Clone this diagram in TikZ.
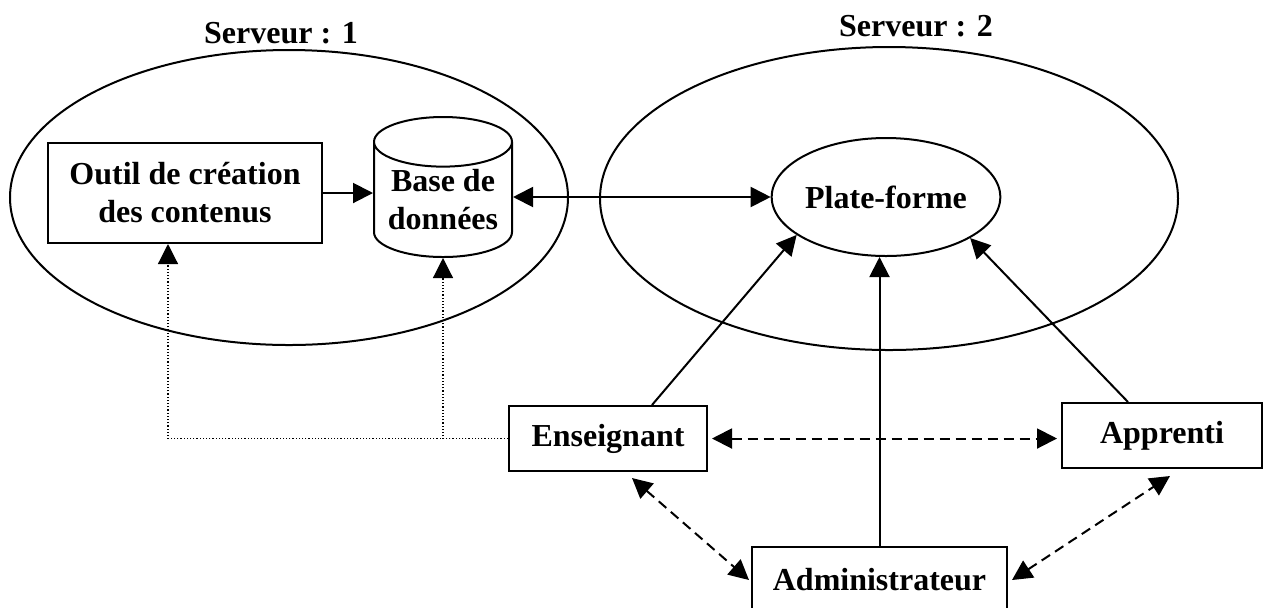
\documentclass[tikz,border=0pt]{standalone}
\usepackage{fontspec}
\setmainfont{Liberation Serif}
\usetikzlibrary{shapes.geometric, arrows.meta}
\tikzset{
  texte/.style={font=\fontsize{16}{19}\selectfont\bfseries},
  boite/.style={draw, line width=1pt, texte, align=center, inner sep=0pt},
  fleche/.style={-{Triangle[length=10pt,width=10pt]}, line width=1pt},
  doublefleche/.style={{Triangle[length=10pt,width=10pt]}-{Triangle[length=10pt,width=10pt]}, line width=1pt},
  tirets/.style={doublefleche, dash pattern=on 5pt off 3pt},
  pointille/.style={fleche, line width=0.6pt, dash pattern=on 0.6pt off 1pt},
}
\begin{document}
\begin{tikzpicture}[x=0.5pt, y=-0.5pt]
\path[use as bounding box, clip] (0,0) rectangle (1263,607);
% Les deux serveurs
\node[ellipse, draw, line width=1pt, inner sep=0pt, minimum width=279pt, minimum height=147.5pt] (srv1) at (289,197.5) {};
\node[ellipse, draw, line width=1pt, inner sep=0pt, minimum width=289pt, minimum height=151.5pt] (srv2) at (889,198.5) {};
\node[texte] (lab1) at (281,33) {Serveur : 1};
\node[texte] (lab2) at (916,26) {Serveur : 2};
% Outils et plate-forme
\node[boite, minimum width=137pt, minimum height=50pt] (outil) at (185,193) {Outil de création\\des contenus};
\node[boite, cylinder, shape border rotate=90, aspect=0.45, minimum width=69pt, minimum height=70pt, anchor=shape center] (bdd) at (443,187) {Base de\\données};
\node[boite, ellipse, minimum width=114pt, minimum height=59pt] (plate) at (886,197) {Plate-forme};
% Acteurs
\node[boite, minimum width=99pt, minimum height=32.5pt] (ens) at (608,438.5) {Enseignant};
\node[boite, minimum width=100pt, minimum height=32.5pt] (app) at (1162,435.5) {Apprenti};
\node[boite, minimum width=127.5pt, minimum height=33pt] (adm) at (879.5,580) {Administrateur};
% Liaisons
\draw[fleche] (outil.east) -- (bdd.west |- outil.east);
\draw[doublefleche] (bdd.east |- plate.west) -- (plate.west);
\draw[fleche] ([xshift=22pt]ens.north) -- (plate.203);
\draw[fleche] (adm.north) -- (adm.north |- plate.south);
\draw[fleche] ([xshift=-17pt]app.north) -- (plate.334);
\draw[tirets] ([xshift=2pt]ens.east) -- ([xshift=-2pt]ens.east -| app.west);
\draw[tirets] ([xshift=12pt,yshift=-3pt]ens.south) -- ([xshift=-1pt,yshift=0pt]adm.west);
\draw[tirets] ([xshift=2pt,yshift=0pt]adm.east) -- ([xshift=4pt,yshift=-3.5pt]app.south);
\draw[pointille] (ens.west) -| ([xshift=-8.5pt]outil.south);
\draw[pointille] (ens.west) -| (bdd.south);
\end{tikzpicture}
\end{document}
